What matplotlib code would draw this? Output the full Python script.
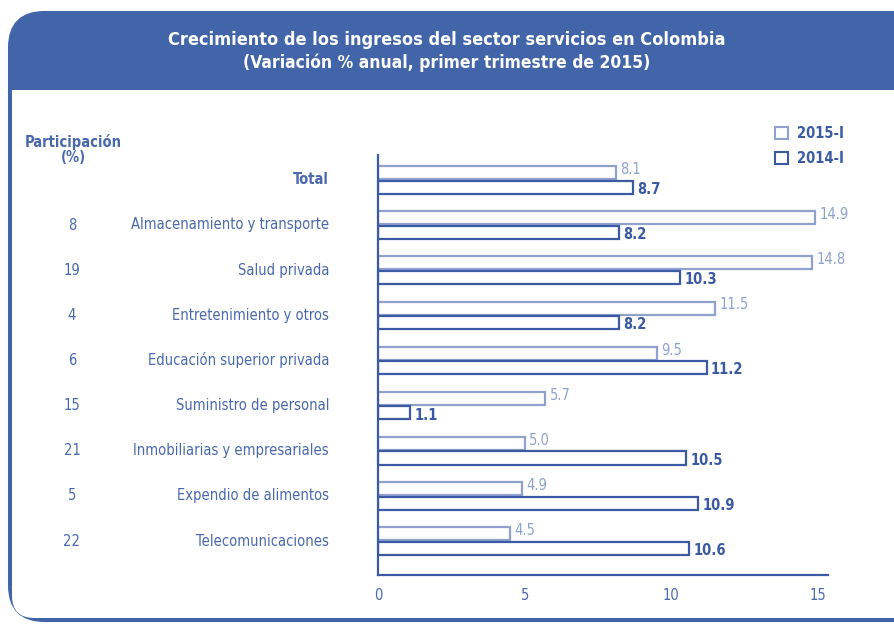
import matplotlib
matplotlib.use("Agg")
import matplotlib.pyplot as plt
from matplotlib.patches import FancyBboxPatch, Rectangle, Patch
from matplotlib.transforms import blended_transform_factory

# data
categories = ["Total", "Almacenamiento y transporte", "Salud privada",
              "Entretenimiento y otros", "Educación superior privada",
              "Suministro de personal", "Inmobiliarias y empresariales",
              "Expendio de alimentos", "Telecomunicaciones"]
participacion = ["", "8", "19", "4", "6", "15", "21", "5", "22"]
val_2015 = [8.1, 14.9, 14.8, 11.5, 9.5, 5.7, 5.0, 4.9, 4.5]
val_2014 = [8.7, 8.2, 10.3, 8.2, 11.2, 1.1, 10.5, 10.9, 10.6]
series_labels = ["2015-I", "2014-I"]

DARK = "#3A5AA4"
LIGHT = "#8FA2CE"
HEADER = "#4264A8"
TEXT = "#4A68AC"
W, H = 894, 625

plt.rcParams['font.family'] = ['DejaVu Sans']
plt.rcParams['font.stretch'] = 'condensed'

fig = plt.figure(figsize=(W / 100, H / 100), dpi=100)

def fx(px):
    return px / W

def fy(py):
    return 1 - py / H

# framed box with blue header band
outer = FancyBboxPatch((fx(9), fy(621)), fx(W + 40) - fx(9), fy(12) - fy(621),
                       boxstyle="round,pad=0,rounding_size=0.04",
                       mutation_aspect=W / H, transform=fig.transFigure,
                       facecolor=HEADER, edgecolor=HEADER, lw=1.5, zorder=0)
fig.patches.append(outer)
inner = FancyBboxPatch((fx(12), fy(618)), fx(W + 40) - fx(12), fy(60) - fy(618),
                       boxstyle="round,pad=0,rounding_size=0.025",
                       mutation_aspect=W / H, transform=fig.transFigure,
                       facecolor="white", edgecolor="none", zorder=0.5)
fig.patches.append(inner)
band = Rectangle((fx(9), fy(90)), 1, fy(40) - fy(90), transform=fig.transFigure,
                 facecolor=HEADER, edgecolor="none", zorder=0.6)
fig.patches.append(band)

fig.text(0.5, fy(40), "Crecimiento de los ingresos del sector servicios en Colombia",
         ha="center", va="center", color="white", fontsize=13, fontweight="bold")
fig.text(0.5, fy(63), "(Variación % anual, primer trimestre de 2015)",
         ha="center", va="center", color="white", fontsize=12.5, fontweight="bold")

ax = fig.add_axes([fx(378), fy(575), fx(828) - fx(378), fy(155) - fy(575)])
ax.set_zorder(2)
ax.set_facecolor("none")

rows = list(range(len(categories)))
bh = 0.29
off = 0.16
ax.barh([r - off for r in rows], val_2015, height=bh, facecolor="white",
        edgecolor=LIGHT, lw=1.6)
ax.barh([r + off for r in rows], val_2014, height=bh, facecolor="white",
        edgecolor=DARK, lw=1.6)

for r, v in zip(rows, val_2015):
    ax.text(v + 0.15, r - off - 0.07, f"{v:.1f}", ha="left", va="center",
            color=LIGHT, fontsize=10.5)
for r, v in zip(rows, val_2014):
    ax.text(v + 0.15, r + off + 0.05, f"{v:.1f}", ha="left", va="center",
            color=DARK, fontsize=10.5, fontweight="bold")

ax.set_xlim(0, 15.34)
ax.set_ylim(8.75, -0.55)
ax.set_xticks([0, 5, 10, 15])
ax.set_yticks([])
ax.tick_params(axis="x", length=0, pad=9, labelcolor=TEXT, labelsize=10.5)
for s in ["top", "right"]:
    ax.spines[s].set_visible(False)
for s in ["left", "bottom"]:
    ax.spines[s].set_color(DARK)
    ax.spines[s].set_linewidth(1.6)

tr = blended_transform_factory(fig.transFigure, ax.transData)
for r, (cat, p) in enumerate(zip(categories, participacion)):
    ax.text(fx(329), r, cat, transform=tr, ha="right", va="center", color=TEXT,
            fontsize=10.5, fontweight="bold" if cat == "Total" else "normal")
    if p:
        ax.text(fx(72), r, p, transform=tr, ha="center", va="center",
                color=TEXT, fontsize=10.5)

fig.text(fx(73), fy(150), "Participación\n(%)", ha="center", va="center",
         color=TEXT, fontsize=10.5, fontweight="bold", linespacing=1.0)

handles = [Patch(facecolor="white", edgecolor=LIGHT, lw=1.5),
           Patch(facecolor="white", edgecolor=DARK, lw=1.5)]
fig.legend(handles, series_labels, loc="upper left",
           bbox_to_anchor=(fx(762), fy(113)), frameon=False,
           handlelength=0.9, handleheight=0.9, handletextpad=0.6,
           labelspacing=0.7, labelcolor=DARK,
           prop={"weight": "bold", "size": 10.5})

fig.savefig("out.png", dpi=100)
